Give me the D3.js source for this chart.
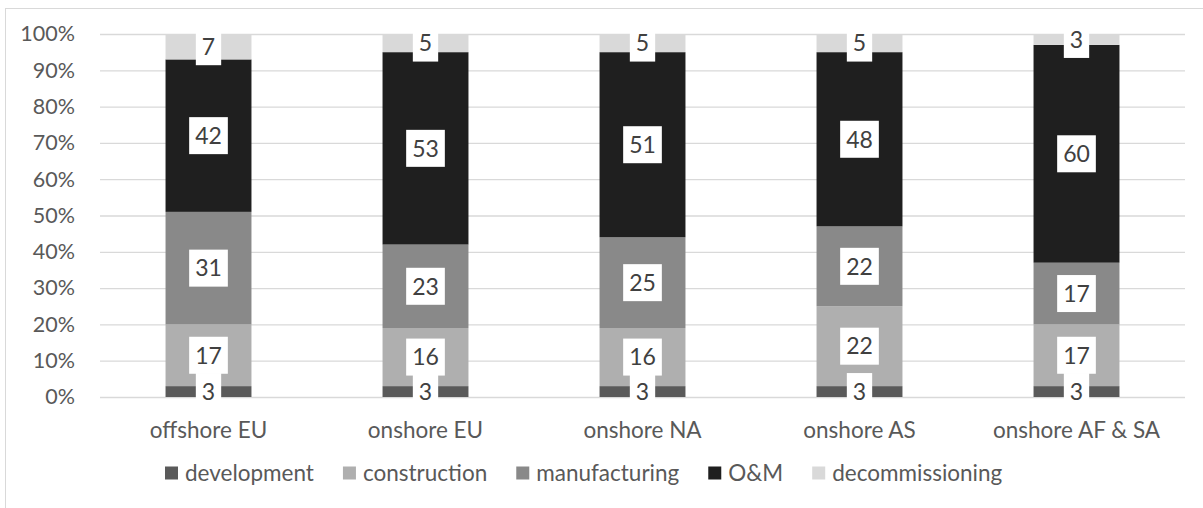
<!DOCTYPE html>
<html>
<head>
<meta charset="utf-8">
<script src="https://cdn.jsdelivr.net/npm/d3@7"></script>
<style>
  html, body { margin: 0; padding: 0; background: #fff; }
  svg { display: block; font-family: Lato, "Open Sans", sans-serif; }
</style>
</head>
<body>
<svg id="chart" width="1203" height="508"></svg>
<script>
// Life-cycle phase shares (%) per wind market
const categories = ["offshore EU", "onshore EU", "onshore NA", "onshore AS", "onshore AF & SA"];
const phases = ["development", "construction", "manufacturing", "O&M", "decommissioning"];
const development     = [3, 3, 3, 3, 3];
const construction    = [17, 16, 16, 22, 17];
const manufacturing   = [31, 23, 25, 22, 17];
const om              = [42, 53, 51, 48, 60];
const decommissioning = [7, 5, 5, 5, 3];
const yTicks = [0, 10, 20, 30, 40, 50, 60, 70, 80, 90, 100];
const phaseColors = ["#5a5a5a", "#afafaf", "#898989", "#1f1f1f", "#d9d9d9"];

const seriesValues = [development, construction, manufacturing, om, decommissioning];
const rows = categories.map((c, i) => {
  const r = { category: c };
  phases.forEach((p, j) => { r[p] = seriesValues[j][i]; });
  return r;
});

const svg = d3.select("#chart");

// outer frame
svg.append("rect")
  .attr("x", 5.5).attr("y", 8.5).attr("width", 1205).attr("height", 520)
  .attr("fill", "none").attr("stroke", "#d9d9d9").attr("stroke-width", 1);

const x = d3.scaleBand().domain(categories).range([100, 1185])
  .paddingInner(0.604).paddingOuter(0.302);
const y = d3.scaleLinear().domain([0, 100]).range([397, 34]);
const color = d3.scaleOrdinal().domain(phases).range(phaseColors);

// gridlines + y tick labels
const yAxis = d3.axisLeft(y).tickValues(yTicks).tickFormat(d => d + "%")
  .tickSize(-(1185 - 100)).tickPadding(25);
const gy = svg.append("g").attr("transform", "translate(100,0)").call(yAxis);
gy.select(".domain").remove();
gy.selectAll(".tick line").attr("stroke", "#d9d9d9").attr("stroke-width", 1.3);
gy.selectAll(".tick text").attr("fill", "#595959").attr("font-size", 21.5)
  .attr("font-family", "Lato, 'Open Sans', sans-serif");

// category labels
const xAxis = d3.axisBottom(x).tickSize(0).tickPadding(25);
const gx = svg.append("g").attr("transform", "translate(0,397)").call(xAxis);
gx.select(".domain").remove();
gx.selectAll(".tick text").attr("fill", "#595959").attr("font-size", 22.5)
  .attr("font-family", "Lato, 'Open Sans', sans-serif");

// stacked bars
const stack = d3.stack().keys(phases);
const series = stack(rows);

const layers = svg.append("g").selectAll("g").data(series).join("g")
  .attr("fill", d => color(d.key));
layers.selectAll("rect").data(d => d).join("rect")
  .attr("x", d => x(d.data.category))
  .attr("width", x.bandwidth())
  .attr("y", d => y(d[1]))
  .attr("height", d => y(d[0]) - y(d[1]));

// value labels in white boxes
const labels = [];
series.forEach(s => s.forEach(d => {
  labels.push({ cx: x(d.data.category) + x.bandwidth() / 2, cy: y((d[0] + d[1]) / 2), v: d[1] - d[0] });
}));
const lg = svg.append("g").selectAll("g").data(labels).join("g")
  .attr("transform", d => `translate(${d.cx},${d.cy})`);
lg.append("rect").attr("fill", "#fff");
const boxText = lg.append("text")
  .attr("text-anchor", "middle").attr("dy", "0.36em")
  .attr("font-size", 23).attr("fill", "#404040")
  .text(d => d.v);
boxText.each(function () {
  const w = this.getComputedTextLength();
  d3.select(this.parentNode).select("rect")
    .attr("x", -w / 2 - 6).attr("width", w + 12)
    .attr("y", -18.5).attr("height", 37);
});

// legend
const legend = svg.append("g").attr("transform", "translate(165,473)");
let lx = 0;
phases.forEach(p => {
  const item = legend.append("g").attr("transform", `translate(${lx},0)`);
  item.append("rect").attr("x", 0).attr("y", -6.5).attr("width", 13).attr("height", 13)
    .attr("fill", color(p));
  const t = item.append("text").attr("x", 20).attr("dy", "0.36em")
    .attr("font-size", 22.5).attr("fill", "#595959").text(p);
  lx += 20 + t.node().getComputedTextLength() + 29;
});
</script>
</body>
</html>
